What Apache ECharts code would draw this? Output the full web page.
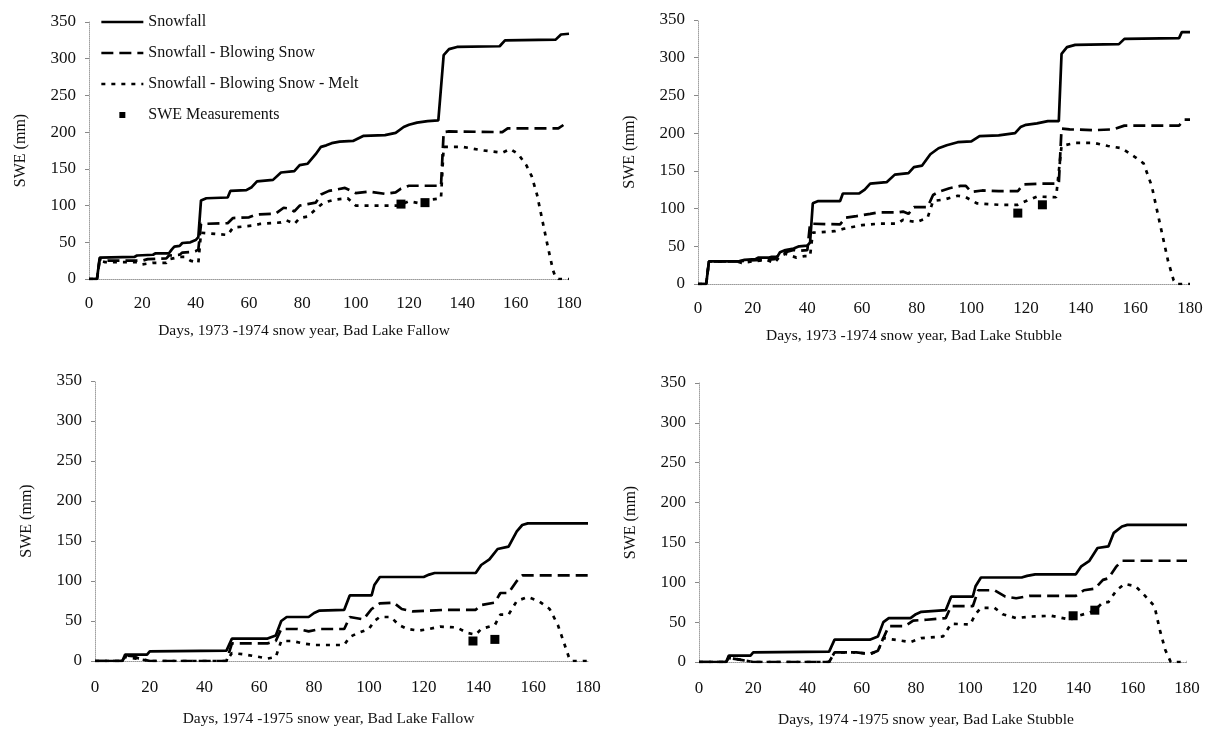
<!DOCTYPE html>
<html>
<head>
<meta charset="utf-8">
<script src="https://cdn.jsdelivr.net/npm/echarts@6/dist/echarts.min.js"></script>
<style>
html,body{margin:0;padding:0;background:#fff;}
#chart{width:1210px;height:733px;}
</style>
</head>
<body>
<div id="chart"></div>
<script>
// ---- Data (day, SWE mm) ----
const seriesNames = ['Snowfall', 'Snowfall - Blowing Snow', 'Snowfall - Blowing Snow - Melt', 'SWE Measurements'];
const panelTitles = [
  'Days, 1973 -1974 snow year, Bad Lake Fallow',
  'Days, 1973 -1974 snow year, Bad Lake Stubble',
  'Days, 1974 -1975 snow year, Bad Lake Fallow',
  'Days, 1974 -1975 snow year, Bad Lake Stubble'
];
const yAxisName = 'SWE (mm)';

const fallow7374Snow = [[0,0],[3,0],[4,29],[17,30],[18,32],[24,33],[25,35],[30,35],[31,40],[32,44],[34,45],[35,49],[38,50],[40,53],[41,57],[42,107],[44,110],[52,111],[53,120],[59,121],[61,125],[63,133],[69,135],[72,145],[77,147],[79,155],[82,157],[85,170],[87,180],[89,182],[91,185],[94,187],[99,188],[103,195],[111,196],[115,199],[118,207],[120,210],[123,213],[127,215],[131,216],[133,305],[135,313],[138,316],[154,317],[156,325],[175,326],[177,333],[180,334]];
const fallow7374Blow = [[0,0],[3,0],[4,27],[6,25],[20,25],[22,27],[29,28],[30,32],[34,33],[35,36],[39,37],[40,38],[41,40],[42,75],[52,76],[54,83],[60,84],[62,87],[64,88],[70,89],[73,97],[75,96],[77,92],[79,100],[82,102],[85,104],[87,115],[90,120],[96,124],[100,117],[105,119],[111,116],[115,118],[117,123],[120,127],[132,127],[133,200],[135,201],[155,200],[157,205],[176,205],[178,210]];
const fallow7374Melt = [[0,0],[3,0],[4,25],[6,23],[18,23],[20,20],[24,22],[29,22],[30,27],[34,30],[36,30],[38,25],[41,22],[42,63],[52,60],[54,70],[62,73],[64,75],[72,77],[74,80],[77,75],[79,83],[82,85],[85,95],[88,104],[92,108],[97,110],[100,100],[110,100],[116,100],[120,106],[124,103],[128,108],[132,110],[133,180],[140,180],[148,175],[155,172],[158,177],[161,170],[164,155],[166,140],[168,115],[170,80],[172,45],[174,12],[175,2],[176,0],[180,0]];
const fallow7374Swe = [[117,102],[126,104]];

const stubble7374Snow = [[0,0],[3,0],[4,30],[15,30],[17,32],[21,33],[22,35],[26,35],[27,36],[29,36],[30,42],[32,45],[35,47],[37,50],[40,51],[41,55],[42,107],[44,110],[52,110],[53,120],[59,120],[61,125],[63,133],[69,135],[72,145],[77,147],[79,155],[82,157],[85,172],[88,180],[91,184],[95,188],[100,189],[103,196],[110,197],[116,200],[118,208],[120,211],[124,213],[128,216],[132,216],[133,305],[135,314],[138,317],[154,318],[156,325],[176,326],[177,334],[180,334]];
const stubble7374Blow = [[0,0],[3,0],[4,30],[15,30],[18,31],[24,32],[28,33],[30,40],[32,42],[35,45],[37,44],[40,45],[41,80],[52,79],[54,88],[58,90],[63,93],[66,95],[73,95],[75,96],[77,93],[79,102],[84,102],[86,118],[88,122],[92,127],[96,130],[98,130],[100,122],[104,124],[110,123],[117,123],[119,132],[126,133],[132,133],[133,206],[136,205],[145,204],[152,205],[156,210],[176,210],[178,218],[180,218]];
const stubble7374Melt = [[0,0],[3,0],[4,30],[14,30],[16,28],[20,30],[25,32],[28,28],[30,37],[32,40],[36,35],[39,37],[41,37],[42,68],[50,70],[53,73],[60,78],[66,80],[73,80],[75,85],[80,82],[84,88],[86,110],[90,112],[95,117],[98,115],[102,107],[110,105],[117,105],[120,110],[124,116],[131,115],[133,183],[138,187],[145,187],[150,183],[155,180],[160,168],[163,160],[166,130],[169,80],[172,30],[174,5],[175,0],[180,0]];
const stubble7374Swe = [[117,94],[126,105]];

const fallow7475Snow = [[0,0],[10,0],[11,8],[19,8],[20,12],[48,13],[50,28],[63,28],[66,32],[68,50],[70,55],[78,55],[80,60],[82,63],[91,64],[93,82],[101,82],[102,95],[104,105],[120,105],[122,108],[124,110],[139,110],[141,120],[144,127],[147,140],[151,143],[154,162],[156,170],[158,172],[180,172]];
const fallow7475Blow = [[0,0],[10,0],[11,7],[14,6],[16,3],[20,0],[48,0],[50,22],[63,22],[66,25],[68,40],[74,40],[78,37],[82,40],[91,40],[93,55],[98,52],[101,65],[104,72],[109,73],[112,65],[116,62],[122,63],[128,64],[139,64],[141,70],[146,73],[148,85],[151,85],[154,100],[156,107],[180,107]];
const fallow7475Melt = [[0,0],[10,0],[11,5],[15,3],[20,0],[48,0],[50,10],[55,8],[60,5],[63,3],[66,5],[68,25],[72,25],[76,22],[80,20],[91,20],[93,30],[96,35],[100,40],[102,50],[104,55],[108,55],[111,45],[114,40],[118,38],[122,40],[126,43],[132,42],[136,35],[139,33],[141,40],[146,45],[148,58],[151,58],[154,75],[158,80],[162,75],[166,65],[169,45],[171,25],[173,5],[174,0],[180,0]];
const fallow7475Swe = [[138,25],[146,27]];

const stubble7475Snow = [[0,0],[10,0],[11,8],[19,8],[20,12],[48,13],[50,28],[63,28],[66,32],[68,50],[70,55],[78,55],[80,60],[82,63],[91,65],[93,82],[101,82],[102,95],[104,106],[119,106],[121,108],[124,110],[139,110],[141,120],[144,127],[147,143],[151,145],[153,162],[156,170],[158,172],[180,172]];
const stubble7475Blow = [[0,0],[10,0],[11,5],[15,3],[20,0],[48,0],[50,12],[58,12],[63,10],[66,14],[68,30],[70,45],[76,45],[79,52],[84,53],[91,55],[93,70],[101,70],[103,90],[109,90],[113,82],[117,80],[122,83],[139,83],[142,90],[146,92],[149,103],[151,105],[154,120],[156,127],[180,127]];
const stubble7475Melt = [[0,0],[10,0],[11,5],[15,3],[20,0],[48,0],[50,12],[58,12],[63,10],[66,14],[68,30],[72,28],[78,25],[82,30],[90,32],[93,48],[100,47],[102,60],[104,68],[109,68],[112,60],[117,55],[122,57],[130,58],[137,53],[140,58],[144,62],[146,65],[149,75],[151,75],[154,90],[157,98],[161,95],[164,85],[168,70],[170,40],[172,15],[174,0],[180,0]];
const stubble7475Swe = [[138,58],[146,65]];

const panels = [
  [fallow7374Snow, fallow7374Blow, fallow7374Melt, fallow7374Swe],
  [stubble7374Snow, stubble7374Blow, stubble7374Melt, stubble7374Swe],
  [fallow7475Snow, fallow7475Blow, fallow7475Melt, fallow7475Swe],
  [stubble7475Snow, stubble7475Blow, stubble7475Melt, stubble7475Swe]
];

// ---- Layout / style ----
const FONT = 'Liberation Serif';
const grids = [
  {left: 89, top: 22, width: 480, height: 257},
  {left: 698, top: 20, width: 492, height: 264},
  {left: 95, top: 381, width: 493, height: 280},
  {left: 699, top: 383, width: 488, height: 279}
];
const nameShift = [50, 60, 26, 34];
const lineTypes = ['solid', [12, 6], [4, 6]];

const xAxes = [], yAxes = [], series = [];
grids.forEach((g, i) => {
  xAxes.push({
    gridIndex: i, type: 'value', min: 0, max: 180, interval: 20,
    name: panelTitles[i], nameLocation: 'middle', nameGap: i < 2 ? 44 : 50,
    nameTextStyle: {fontFamily: FONT, fontSize: 15.5, color: '#111', padding: [0, nameShift[i], 0, 0]},
    axisLine: {show: true, lineStyle: {color: '#9a9a9a', type: 'dotted', width: 1}},
    axisTick: {show: false},
    axisLabel: {fontFamily: FONT, fontSize: 17, color: '#111', margin: i < 2 ? 16 : 18},
    splitLine: {show: false}
  });
  yAxes.push({
    gridIndex: i, type: 'value', min: 0, max: 350, interval: 50,
    name: yAxisName, nameLocation: 'middle', nameGap: 60, nameRotate: 90,
    nameTextStyle: {fontFamily: FONT, fontSize: 16, color: '#111'},
    axisLine: {show: true, lineStyle: {color: '#a0a0a0', type: 'dotted', width: 1}},
    axisTick: {show: true, length: 4, lineStyle: {color: '#888'}},
    axisLabel: {fontFamily: FONT, fontSize: 17, color: '#111', margin: 13},
    splitLine: {show: false}
  });
  panels[i].forEach((data, k) => {
    if (k < 3) {
      series.push({
        name: seriesNames[k], type: 'line', xAxisIndex: i, yAxisIndex: i,
        data: data, symbol: 'none', showSymbol: false,
        lineStyle: {color: '#000', width: 2.7, type: lineTypes[k], cap: 'butt'},
        itemStyle: {color: '#000'},
        z: 3
      });
    } else {
      series.push({
        name: seriesNames[k], type: 'scatter', xAxisIndex: i, yAxisIndex: i,
        data: data, symbol: 'rect', symbolSize: 9,
        itemStyle: {color: '#000', opacity: 1}, z: 4
      });
    }
  });
});

const chart = echarts.init(document.getElementById('chart'), null, {renderer: 'canvas'});
chart.setOption({
  backgroundColor: '#ffffff',
  animation: false,
  grid: grids,
  xAxis: xAxes,
  yAxis: yAxes,
  legend: {
    orient: 'vertical', left: 95, top: 9,
    itemWidth: 42, itemHeight: 14, itemGap: 15,
    itemStyle: {opacity: 0},
    lineStyle: {width: 2.7},
    textStyle: {fontFamily: FONT, fontSize: 16, color: '#111'},
    data: [
      {name: seriesNames[0]},
      {name: seriesNames[1]},
      {name: seriesNames[2]},
      {name: seriesNames[3], icon: 'path://M0,0M14,14M4,4h6v6h-6z', itemStyle: {opacity: 1, color: '#000'}}
    ]
  },
  series: series
});
</script>
</body>
</html>
